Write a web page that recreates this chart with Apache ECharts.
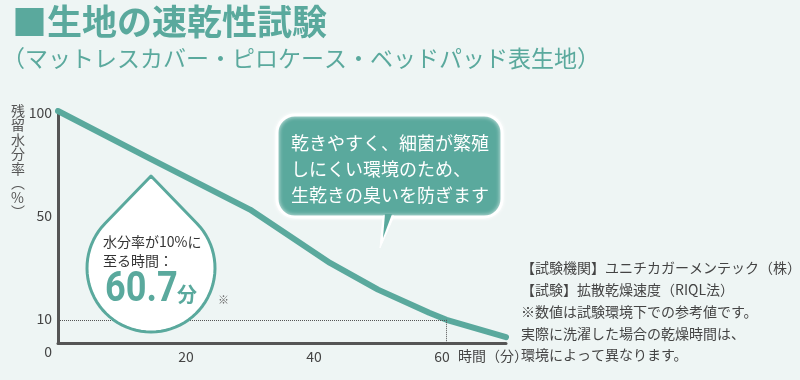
<!DOCTYPE html>
<html>
<head>
<meta charset="utf-8">
<script src="https://cdn.jsdelivr.net/npm/echarts@6/dist/echarts.min.js"></script>
<style>
html,body{margin:0;padding:0;background:#eef5f4;}
#chart{width:800px;height:380px;}
</style>
</head>
<body>
<div id="chart"></div>
<script>
// ---- data ----
const minutes  = [0, 14, 30, 42.5, 50, 58, 60.7, 70];
const moisture = [100, 80, 57.5, 34.5, 23, 13, 10, 2.5];
const yTickValues = [0, 10, 50, 100];
const xTickValues = [20, 40, 60];
const dryTime = 60.7;
const dryLevel = 10;

const titleText = '■生地の速乾性試験';
const subtitleText = '（マットレスカバー・ピロケース・ベッドパッド表生地）';
const yAxisTitle = ['残','留','水','分','率','︵','%','︶'];
const xAxisTitle = '時間（分）';
const bubbleLines = ['乾きやすく、細菌が繁殖', 'しにくい環境のため、', '生乾きの臭いを防ぎます'];
const dropLines = ['水分率が10%に', '至る時間：'];
const dropValue = '60.7';
const dropUnit = '分';
const noteLines = ['【試験機関】ユニチカガーメンテック（株）', '【試験】拡散乾燥速度（RIQL法）', '※数値は試験環境下での参考値です。', '実際に洗濯した場合の乾燥時間は、', '環境によって異なります。'];

const TEAL = '#5aa99d';
const FONT = '"Noto Sans CJK JP", "Noto Sans", sans-serif';

// drop outline (decoration)
const dcx = 151, dcy = 268, dr = 64, dtop = 176;
const dd = dcy - dtop;
const beta = Math.acos(dr / dd);
const dropPts = [[dcx, dtop]];
for (let i = 0; i <= 60; i++) {
  const phi = beta + (2 * Math.PI - 2 * beta) * i / 60;
  dropPts.push([dcx + dr * Math.sin(phi), dcy - dr * Math.cos(phi)]);
}

const chart = echarts.init(document.getElementById('chart'));
chart.setOption({
  backgroundColor: '#eef5f4',
  animation: false,
  grid: { left: 58, top: 111, right: 294, bottom: 37, containLabel: false },
  xAxis: {
    type: 'value', min: 0, max: 70, interval: 20,
    axisLine: { show: true, lineStyle: { color: '#555', width: 3 } },
    axisTick: { show: false },
    splitLine: { show: false },
    axisLabel: {
      color: '#444', fontSize: 14, fontFamily: FONT, margin: 7,
      formatter: v => xTickValues.indexOf(v) >= 0 ? String(v) : ''
    },
    name: xAxisTitle, nameLocation: 'end', nameGap: -48,
    nameTextStyle: { color: '#444', fontSize: 14, fontFamily: FONT, align: 'left', verticalAlign: 'top', padding: [6, 0, 0, 0] }
  },
  yAxis: {
    type: 'value', min: 0, max: 100, interval: 10,
    axisLine: { show: true, lineStyle: { color: '#555', width: 3 } },
    axisTick: { show: false },
    splitLine: { show: false },
    axisLabel: {
      color: '#444', fontSize: 14, fontFamily: FONT, margin: 6,
      formatter: v => {
        if (yTickValues.indexOf(v) < 0) return '';
        if (v === 0) return '{dn|' + v + '}';
        if (v === 50) return '{up|' + v + '}';
        if (v === 100) return '{t|' + v + '}';
        return '{n|' + v + '}';
      },
      rich: {
        n: { color: '#444', fontSize: 14, fontFamily: FONT, padding: [0, 0, 2, 0] },
        t: { color: '#444', fontSize: 14, fontFamily: FONT, padding: [4, 0, 0, 0] },
        up: { color: '#444', fontSize: 14, fontFamily: FONT, padding: [0, 0, 22, 0] },
        dn: { color: '#444', fontSize: 14, fontFamily: FONT, padding: [18, 0, 0, 0] }
      }
    }
  },
  series: [{
    type: 'line',
    data: minutes.map((m, i) => [m, moisture[i]]),
    showSymbol: false,
    smooth: false,
    lineStyle: { color: TEAL, width: 6, cap: 'round', join: 'round' },
    z: 3,
    markLine: {
      silent: true, symbol: 'none', label: { show: false },
      lineStyle: { color: '#555', type: 'dotted', width: 1 },
      data: [
        [{ coord: [0, dryLevel] }, { coord: [dryTime, dryLevel] }],
        [{ coord: [dryTime, dryLevel] }, { coord: [dryTime, 0] }]
      ]
    }
  }],
  graphic: [
    { type: 'text', left: 12, top: 4, z: 100,
      style: { text: titleText, fill: TEAL, font: 'bold 35px ' + FONT } },
    { type: 'text', left: 2, top: 47, z: 100,
      style: { text: subtitleText, fill: TEAL, font: '23px ' + FONT } },
    { type: 'text', left: 11, top: 103, z: 100,
      style: { text: yAxisTitle.join('\n'), fill: '#555', font: '14px ' + FONT, lineHeight: 14.5, align: 'left' } },
    // speech bubble
    { type: 'rect', z: 100, shape: { x: 277, y: 115, width: 225, height: 102, r: 18 },
      style: { fill: TEAL, stroke: '#ffffff', lineWidth: 3, shadowBlur: 4, shadowColor: 'rgba(255,255,255,0.9)' } },
    { type: 'polygon', z: 101, shape: { points: [[383, 216], [394, 216], [380, 248]] },
      style: { fill: '#ffffff', stroke: '#ffffff', lineWidth: 1 } },
    { type: 'polygon', z: 101, shape: { points: [[385, 214], [392, 214], [383, 238]] },
      style: { fill: TEAL } },
    { type: 'text', left: 291, top: 130, z: 102,
      style: { text: bubbleLines.join('\n'), fill: '#ffffff', font: '18px ' + FONT, lineHeight: 26 } },
    // water drop
    { type: 'polygon', z: 100, shape: { points: dropPts },
      style: { fill: '#ffffff', stroke: TEAL, lineWidth: 3, lineJoin: 'round' } },
    { type: 'text', left: 103, top: 232, z: 101,
      style: { text: dropLines.join('\n'), fill: '#333', font: '14px ' + FONT, lineHeight: 19 } },
    { type: 'text', x: 105, y: 290, z: 101, scaleX: 0.86, originX: 0, originY: 0,
      style: { text: dropValue, fill: TEAL, font: 'bold 42px Roboto, ' + FONT, align: 'left', verticalAlign: 'middle' } },
    { type: 'text', x: 177, y: 294, z: 101,
      style: { text: dropUnit, fill: TEAL, font: 'bold 20px ' + FONT, align: 'left', verticalAlign: 'middle' } },
    { type: 'text', x: 218, y: 300, z: 101,
      style: { text: '※', fill: '#666', font: '11px ' + FONT, align: 'left', verticalAlign: 'middle' } },
    // notes
    { type: 'text', left: 521, top: 257, z: 100,
      style: { text: noteLines.join('\n'), fill: '#444', font: '14px ' + FONT, lineHeight: 21.8 } }
  ]
});
</script>
</body>
</html>
